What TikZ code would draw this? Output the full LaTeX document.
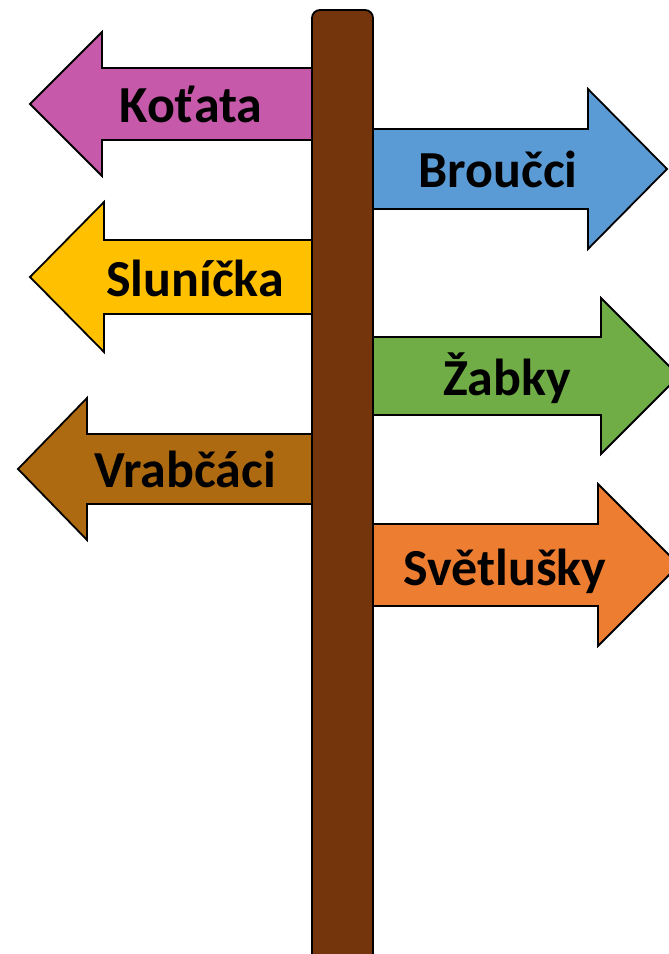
\documentclass[tikz,border=0pt]{standalone}
\usepackage{fontspec}
\setmainfont{Carlito}
\usepackage{tikz}

\definecolor{postbrown}{RGB}{116,53,12}
\definecolor{catpink}{RGB}{199,89,171}
\definecolor{bugblue}{RGB}{91,155,213}
\definecolor{sunyellow}{RGB}{255,192,0}
\definecolor{froggreen}{RGB}{112,173,71}
\definecolor{sparrowbrown}{RGB}{174,106,16}
\definecolor{flyorange}{RGB}{237,125,49}

\tikzset{
	sign/.style={draw=black, line width=1.8pt, line join=miter},
	label/.style={font=\bfseries\fontsize{52}{52}\selectfont, anchor=base, inner sep=0pt},
}

\begin{document}
\begin{tikzpicture}[x=1pt, y=-1pt]
	\useasboundingbox (0,0) rectangle (669,954);

	% left signs: colour / centre / tip / back / shaft / head
	\foreach \col/\c/\t/\b/\s/\h in {catpink/104/30/102/36/72, sunyellow/277/30/104/37/75, sparrowbrown/469/18/87/35/71}
		\draw[sign, fill=\col] (330,\c-\s) -- (\b,\c-\s) -- (\b,\c-\h) -- (\t,\c) -- (\b,\c+\h) -- (\b,\c+\s) -- (330,\c+\s) -- cycle;

	% right signs
	\foreach \col/\c/\t/\b/\s/\h in {bugblue/169/667/588/40/80, froggreen/376/679/601/39/78, flyorange/565/679/598/41/81}
		\draw[sign, fill=\col] (355,\c-\s) -- (\b,\c-\s) -- (\b,\c-\h) -- (\t,\c) -- (\b,\c+\h) -- (\b,\c+\s) -- (355,\c+\s) -- cycle;

	% post
	\draw[sign, fill=postbrown, rounded corners=8pt] (312,10) rectangle (373,975);

	\node[label] (kotata) at (191,122) {Koťata};
	\node[label] (broucci) at (498,187) {Broučci};
	\node[label] (slunicka) at (195,296) {Sluníčka};
	\node[label] (zabky) at (507,395) {Žabky};
	\node[label] (vrabcaci) at (185,487) {Vrabčáci};
	\node[label] (svetlusky) at (505,585) {Světlušky};

\end{tikzpicture}
\end{document}
